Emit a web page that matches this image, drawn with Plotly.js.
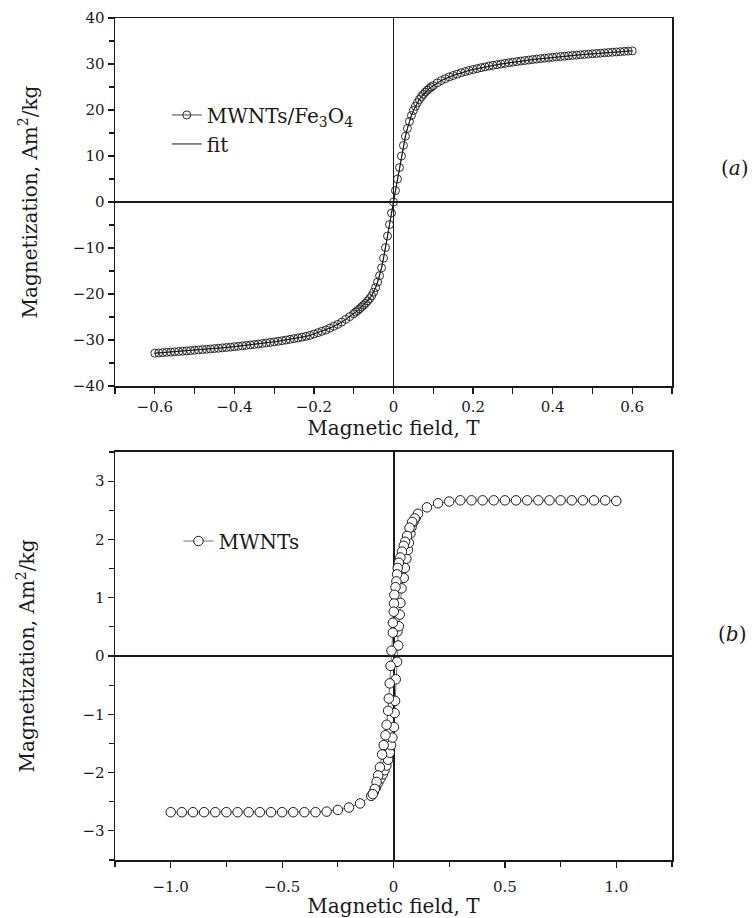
<!DOCTYPE html>
<html>
<head>
<meta charset="utf-8">
<script src="https://cdn.plot.ly/plotly-3.0.1.min.js"></script>
<style>html,body{margin:0;padding:0;background:#fff;}#chart{width:756px;height:918px;}</style>
</head>
<body>
<div id="chart"></div>
<script>
// ---------- Panel (a): MWNTs/Fe3O4 ----------
const fieldA = [
-0.60,-0.59,-0.58,-0.57,-0.56,-0.55,-0.54,-0.53,-0.52,-0.51,
-0.50,-0.49,-0.48,-0.47,-0.46,-0.45,-0.44,-0.43,-0.42,-0.41,
-0.40,-0.39,-0.38,-0.37,-0.36,-0.35,-0.34,-0.33,-0.32,-0.31,
-0.30,-0.29,-0.28,-0.27,-0.26,-0.25,-0.24,-0.23,-0.22,-0.21,
-0.20,-0.19,-0.18,-0.17,-0.16,-0.15,-0.14,-0.13,-0.12,-0.11,
-0.10,-0.095,-0.09,-0.085,-0.08,-0.075,-0.07,-0.065,-0.06,-0.055,
-0.05,-0.045,-0.04,-0.035,-0.03,-0.025,-0.02,-0.015,-0.01,-0.005,
0,
0.005,0.01,0.015,0.02,0.025,0.03,0.035,0.04,0.045,0.05,
0.055,0.06,0.065,0.07,0.075,0.08,0.085,0.09,0.095,0.10,
0.11,0.12,0.13,0.14,0.15,0.16,0.17,0.18,0.19,0.20,
0.21,0.22,0.23,0.24,0.25,0.26,0.27,0.28,0.29,0.30,
0.31,0.32,0.33,0.34,0.35,0.36,0.37,0.38,0.39,0.40,
0.41,0.42,0.43,0.44,0.45,0.46,0.47,0.48,0.49,0.50,
0.51,0.52,0.53,0.54,0.55,0.56,0.57,0.58,0.59,0.60
];
const magA = [
-32.86,-32.8,-32.74,-32.68,-32.62,-32.56,-32.5,-32.43,-32.36,-32.29,
-32.22,-32.15,-32.08,-32.01,-31.94,-31.86,-31.78,-31.7,-31.62,-31.54,
-31.45,-31.36,-31.27,-31.17,-31.07,-30.97,-30.86,-30.75,-30.64,-30.52,
-30.4,-30.27,-30.14,-30.0,-29.85,-29.7,-29.55,-29.38,-29.2,-29.0,
-28.7,-28.4,-28.1,-27.8,-27.4,-27.0,-26.6,-26.1,-25.5,-24.9,
-24.3,-23.9,-23.6,-23.2,-22.8,-22.4,-22.0,-21.5,-21.0,-20.4,
-19.6,-18.6,-17.4,-16.0,-14.3,-12.2,-9.9,-7.4,-4.9,-2.4,
0,
2.5,5.0,7.5,10.0,12.3,14.3,16.0,17.5,18.8,19.9,
20.8,21.6,22.3,22.9,23.4,23.9,24.3,24.7,25.0,25.3,
25.9,26.4,26.8,27.2,27.5,27.8,28.1,28.35,28.6,28.8,
29.0,29.2,29.38,29.55,29.7,29.85,30.0,30.14,30.27,30.4,
30.52,30.64,30.75,30.86,30.97,31.07,31.17,31.27,31.36,31.45,
31.54,31.62,31.7,31.78,31.86,31.94,32.01,32.08,32.15,32.22,
32.29,32.36,32.43,32.5,32.56,32.62,32.68,32.74,32.8,32.86
];
// fit curve follows the measured points
const fitFieldA = fieldA;
const fitMagA = magA;

// ---------- Panel (b): MWNTs ----------
const upFieldB = [
-1.0,-0.95,-0.9,-0.85,-0.8,-0.75,-0.7,-0.65,-0.6,-0.55,-0.5,-0.45,-0.4,-0.35,-0.3,-0.25,-0.2,-0.15,
-0.10,-0.088,-0.078,-0.068,-0.058,-0.048,-0.040,-0.032,-0.024,-0.017,
-0.011,-0.005,0.002,0.005,0.007,0.010,0.016,0.021,0.018,0.024,
0.028,0.031,0.036,0.046,0.051,0.058,0.065,0.069,0.076,0.081,
0.090,0.100,0.11,
0.15,0.2,0.25,0.3,0.35,0.4,0.45,0.5,0.55,0.6,0.65,0.7,0.75,0.8,0.85,0.9,0.95,1.0
];
const upMagB = [
-2.68,-2.68,-2.68,-2.68,-2.68,-2.68,-2.68,-2.68,-2.68,-2.68,-2.68,-2.68,-2.68,-2.68,-2.67,-2.64,-2.6,-2.53,
-2.40,-2.33,-2.25,-2.17,-2.10,-2.03,-1.96,-1.88,-1.78,-1.66,
-1.53,-1.40,-1.22,-0.98,-0.77,-0.40,-0.10,0.18,0.42,0.51,
0.71,0.91,1.16,1.34,1.51,1.67,1.82,1.94,2.10,2.21,
2.30,2.37,2.44,
2.55,2.62,2.65,2.67,2.67,2.67,2.67,2.67,2.67,2.67,2.67,2.67,2.67,2.67,2.67,2.67,2.67,2.66
];
const downFieldB = [
0.095,0.084,0.072,0.061,0.052,0.046,0.038,0.031,0.024,0.019,
0.016,0.013,0.009,0.004,0.002,0.001,-0.003,-0.003,-0.009,-0.013,
-0.017,-0.021,-0.024,-0.031,-0.036,-0.044,-0.051,-0.061,-0.069,-0.076,
-0.084,-0.093
];
const downMagB = [
2.36,2.30,2.20,2.06,1.96,1.89,1.79,1.69,1.60,1.51,
1.40,1.28,1.18,1.05,0.90,0.76,0.57,0.40,0.09,-0.17,
-0.47,-0.73,-0.94,-1.18,-1.36,-1.53,-1.69,-1.91,-2.05,-2.16,
-2.28,-2.37
];

// ---------- tick labels ----------
const tickValsXA = [-0.6,-0.4,-0.2,0,0.2,0.4,0.6];
const tickTextXA = ['\u22120.6','\u22120.4','\u22120.2','0','0.2','0.4','0.6'];
const tickValsYA = [-40,-30,-20,-10,0,10,20,30,40];
const tickTextYA = ['\u221240','\u221230','\u221220','\u221210','0','10','20','30','40'];
const tickValsXB = [-1.0,-0.5,0,0.5,1.0];
const tickTextXB = ['\u22121.0','\u22120.5','0','0.5','1.0'];
const tickValsYB = [-3,-2,-1,0,1,2,3];
const tickTextYB = ['\u22123','\u22122','\u22121','0','1','2','3'];

const FONT = 'DejaVu Serif';
const INK = '#1a1a1a';

const traces = [
  {x: fitFieldA, y: fitMagA, mode:'lines', name:'fit', xaxis:'x', yaxis:'y',
   line:{color:INK, width:1}, legend:'legend', legendrank:2},
  {x: fieldA, y: magA, mode:'lines+markers', name:'MWNTs/Fe<sub>3</sub>O<sub>4</sub>', xaxis:'x', yaxis:'y',
   line:{color:INK, width:0.8},
   marker:{symbol:'circle-open', size:8, color:INK, line:{width:0.9, color:INK}},
   legend:'legend', legendrank:1},
  {x: upFieldB, y: upMagB, mode:'lines+markers', name:'MWNTs', xaxis:'x2', yaxis:'y2',
   line:{color:'#333', width:0.7},
   marker:{symbol:'circle', size:9.5, color:'white', line:{width:1, color:INK}},
   legend:'legend2'},
  {x: downFieldB, y: downMagB, mode:'lines+markers', name:'MWNTs', xaxis:'x2', yaxis:'y2',
   line:{color:'#333', width:0.7}, showlegend:false,
   marker:{symbol:'circle', size:9.5, color:'white', line:{width:1, color:INK}}}
];

function baseAxis(extra){
  return Object.assign({
    showline:true, linecolor:INK, linewidth:1.5, mirror:true,
    showgrid:false, zeroline:true, zerolinecolor:INK, zerolinewidth:1.5,
    ticks:'outside', ticklen:6, tickwidth:1.2, tickcolor:INK,
    tickfont:{family:FONT, size:15, color:INK},
    title:{font:{family:FONT, size:20, color:INK}}
  }, extra);
}
function overlayAxis(extra){
  return Object.assign({
    showline:false, showgrid:false, zeroline:false, showticklabels:false,
    ticks:'inside', ticklen:5, tickwidth:1.2, tickcolor:INK, tickmode:'linear', tick0:0
  }, extra);
}

const layout = {
  width:756, height:918,
  margin:{l:115, r:84, t:18, b:58},
  paper_bgcolor:'white', plot_bgcolor:'white',
  font:{family:FONT, size:15, color:INK},
  showlegend:true,
  xaxis: baseAxis({domain:[0,1], anchor:'y', range:[-0.7,0.7],
    tickvals:tickValsXA, ticktext:tickTextXA,
    minor:{tickmode:'linear', tick0:0, dtick:0.1, ticks:'outside', ticklen:6, tickcolor:INK},
    zerolinewidth:1.2,
    title:{text:'Magnetic field, T', font:{family:FONT, size:20, color:INK}, standoff:3}}),
  yaxis: baseAxis({domain:[0.5629,1], anchor:'x', range:[-40,40],
    tickvals:tickValsYA, ticktext:tickTextYA,
    minor:{tickmode:'linear', tick0:0, dtick:5, ticks:'outside', ticklen:5, tickcolor:INK},
    zerolinewidth:1.8,
    title:{text:'Magnetization, Am<sup>2</sup>/kg', font:{family:FONT, size:20, color:INK}, standoff:30}}),
  xaxis2: baseAxis({domain:[0,1], anchor:'y2', range:[-1.25,1.25],
    tickvals:tickValsXB, ticktext:tickTextXB,
    minor:{tickmode:'linear', tick0:0, dtick:0.25, ticks:'outside', ticklen:5, tickcolor:INK},
    ticklabelstandoff:6, zerolinewidth:2,
    title:{text:'Magnetic field, T', font:{family:FONT, size:20, color:INK}, standoff:2}}),
  yaxis2: baseAxis({domain:[0,0.4846], anchor:'x2', range:[-3.5,3.5],
    tickvals:tickValsYB, ticktext:tickTextYB,
    minor:{tickmode:'linear', tick0:0, dtick:0.5, ticks:'outside', ticklen:5, tickcolor:INK},
    zerolinewidth:2,
    title:{text:'Magnetization, Am<sup>2</sup>/kg', font:{family:FONT, size:20, color:INK}, standoff:42}}),
  xaxis3: overlayAxis({overlaying:'x', anchor:'y', side:'top', range:[-0.7,0.7], dtick:0.1}),
  yaxis3: overlayAxis({overlaying:'y', anchor:'x', side:'right', range:[-40,40], dtick:5}),
  xaxis4: overlayAxis({overlaying:'x2', anchor:'y2', side:'top', range:[-1.25,1.25], dtick:0.25}),
  yaxis4: overlayAxis({overlaying:'y2', anchor:'x2', side:'right', range:[-3.5,3.5], dtick:0.5}),
  legend:{x:0.093, y:0.908, xanchor:'left', yanchor:'top', bgcolor:'rgba(0,0,0,0)',
    font:{family:FONT, size:20, color:INK}, traceorder:'normal', itemwidth:30, tracegroupgap:0},
  legend2:{x:0.114, y:0.402, xanchor:'left', yanchor:'top', bgcolor:'rgba(0,0,0,0)',
    font:{family:FONT, size:20, color:INK}, itemwidth:30},
  annotations:[
    {xref:'paper', yref:'paper', x:1.113, y:0.8219, xanchor:'center', yanchor:'middle', showarrow:false,
     text:'(<i>a</i>)', font:{family:FONT, size:20, color:INK}},
    {xref:'paper', yref:'paper', x:1.108, y:0.2684, xanchor:'center', yanchor:'middle', showarrow:false,
     text:'(<i>b</i>)', font:{family:FONT, size:20, color:INK}}
  ]
};

Plotly.newPlot('chart', traces, layout, {staticPlot:true, displayModeBar:false});
</script>
</body>
</html>
